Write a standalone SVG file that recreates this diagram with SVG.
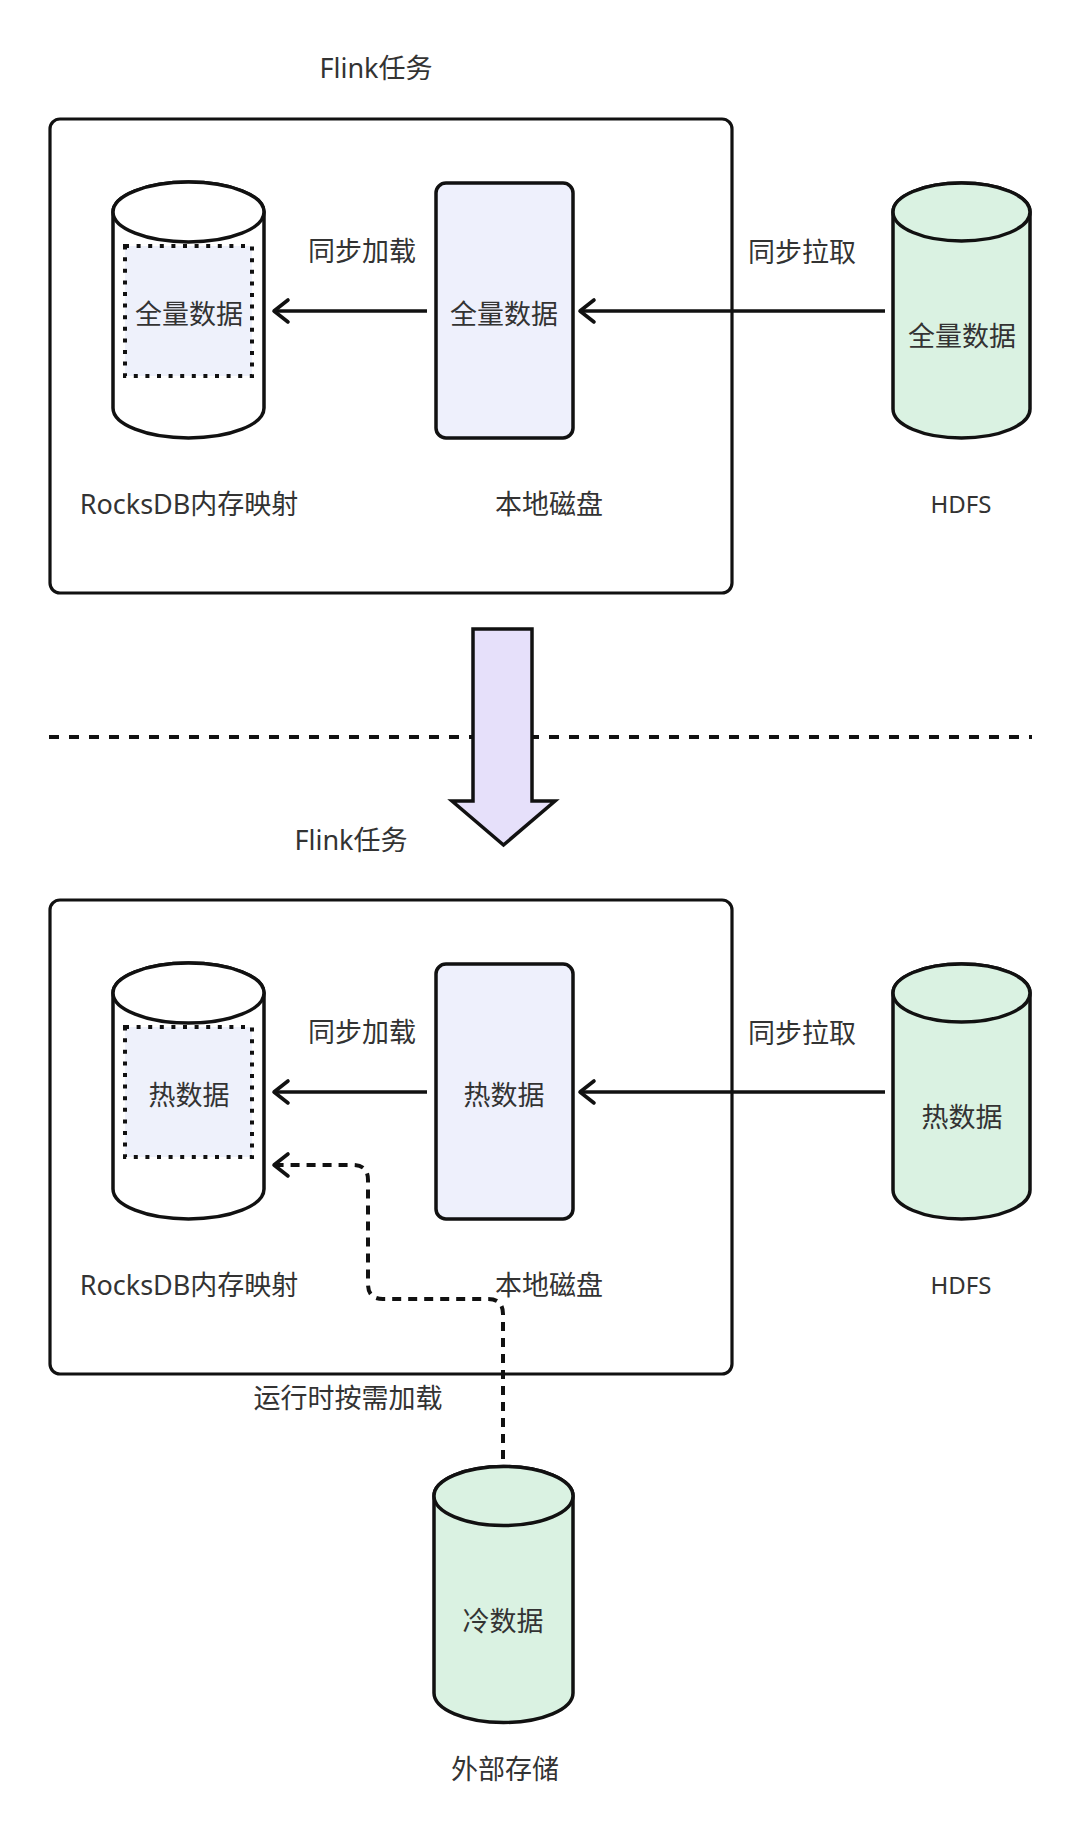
<svg xmlns="http://www.w3.org/2000/svg" width="1080" height="1833" viewBox="0 0 1080 1833">
<style>
  text { font-family: "Noto Sans", "Noto Sans CJK SC", sans-serif; fill: #333; font-size: 27px; text-anchor: middle; dominant-baseline: central; }
  .small { font-size: 24px; }
  .frame { fill: none; stroke: #111; stroke-width: 3.2; }
  .shape { stroke: #111; stroke-width: 3.5; stroke-linejoin: round; }
  .white { fill: #fff; }
  .disk { fill: #EEF0FC; }
  .green { fill: #DAF2E2; }
  .dotbox { fill: #EEF1FB; stroke: #111; stroke-width: 4; stroke-dasharray: 4 7.6; }
  .conn { fill: none; stroke: #111; stroke-width: 3.6; }
  .dash { stroke-width: 4; stroke-dasharray: 9 7; }
  .sep { fill: none; stroke: #111; stroke-width: 4; stroke-dasharray: 10 10; }
  .bigarrow { fill: #E6E0FA; stroke: #111; stroke-width: 3.5; stroke-linejoin: miter; }
</style>
<defs>
  <marker id="chev" markerUnits="userSpaceOnUse" viewBox="-18 -15 22 30" refX="0" refY="0" markerWidth="22" markerHeight="30" orient="auto">
    <path d="M -14 -11 L 0 0 L -14 11" fill="none" stroke="#111" stroke-width="3.6" stroke-linecap="round" stroke-linejoin="round" stroke-dasharray="none"/>
  </marker>
</defs>
<rect width="1080" height="1833" fill="#fff"/>

<g id="top-title"><text x="376" y="67">Flink任务</text></g>
<g id="top-frame"><rect class="frame" x="50" y="119" width="682" height="474" rx="10"/></g>

<g id="top-rocksdb">
  <path class="shape white" d="M113,212 L113,408 A75.5,30 0 0 0 264,408 L264,212 A75.5,30 0 0 0 113,212 Z"/>
  <ellipse class="shape white" cx="188.5" cy="212" rx="75.5" ry="30"/>
  <rect class="dotbox" x="125" y="246" width="127" height="130"/>
  <text x="189" y="313">全量数据</text>
  <text x="189" y="503">RocksDB内存映射</text>
</g>

<g id="top-local">
  <rect class="shape disk" x="436" y="183" width="137" height="255" rx="10"/>
  <text x="504" y="313">全量数据</text>
  <text x="549" y="503">本地磁盘</text>
</g>

<g id="top-hdfs">
  <path class="shape green" d="M893,212 L893,409 A68.5,29 0 0 0 1030,409 L1030,212 A68.5,29 0 0 0 893,212 Z"/>
  <ellipse class="shape green" cx="961.5" cy="212" rx="68.5" ry="29"/>
  <text x="962" y="335">全量数据</text>
  <text class="small" x="961" y="503">HDFS</text>
</g>

<g id="separator">
  <line class="sep" x1="49" y1="737" x2="1032" y2="737"/>
</g>
<g id="transition-arrow">
  <polygon class="bigarrow" points="473,629 532,629 532,801 555,801 503.5,845 452,801 473,801"/>
</g>

<g id="bottom-title"><text x="351" y="839">Flink任务</text></g>
<g id="bottom-frame"><rect class="frame" x="50" y="900" width="682" height="474" rx="10"/></g>

<g id="bottom-rocksdb">
  <path class="shape white" d="M113,993 L113,1189 A75.5,30 0 0 0 264,1189 L264,993 A75.5,30 0 0 0 113,993 Z"/>
  <ellipse class="shape white" cx="188.5" cy="993" rx="75.5" ry="30"/>
  <rect class="dotbox" x="125" y="1027" width="127" height="130"/>
  <text x="189" y="1094">热数据</text>
  <text x="189" y="1284">RocksDB内存映射</text>
</g>

<g id="bottom-local">
  <rect class="shape disk" x="436" y="964" width="137" height="255" rx="10"/>
  <text x="504" y="1094">热数据</text>
  <text x="549" y="1284">本地磁盘</text>
</g>

<g id="bottom-hdfs">
  <path class="shape green" d="M893,993 L893,1190 A68.5,29 0 0 0 1030,1190 L1030,993 A68.5,29 0 0 0 893,993 Z"/>
  <ellipse class="shape green" cx="961.5" cy="993" rx="68.5" ry="29"/>
  <text x="962" y="1116">热数据</text>
  <text class="small" x="961" y="1284">HDFS</text>
</g>

<g id="cold-storage">
  <path class="shape green" d="M434,1496 L434,1693 A69.5,29.5 0 0 0 573,1693 L573,1496 A69.5,29.5 0 0 0 434,1496 Z"/>
  <ellipse class="shape green" cx="503.5" cy="1496" rx="69.5" ry="29.5"/>
  <text x="503" y="1620">冷数据</text>
  <text x="505" y="1768">外部存储</text>
</g>

<g id="connectors">
  <line class="conn" x1="427" y1="311" x2="274" y2="311" marker-end="url(#chev)"/>
  <text x="362" y="250">同步加载</text>
  <line class="conn" x1="885" y1="311" x2="580" y2="311" marker-end="url(#chev)"/>
  <text x="802" y="251">同步拉取</text>
  <line class="conn" x1="427" y1="1092" x2="274" y2="1092" marker-end="url(#chev)"/>
  <text x="362" y="1031">同步加载</text>
  <line class="conn" x1="885" y1="1092" x2="580" y2="1092" marker-end="url(#chev)"/>
  <text x="802" y="1032">同步拉取</text>
  <path class="conn dash" d="M503,1459 L503,1314 Q503,1299 488,1299 L383,1299 Q368,1299 368,1284 L368,1180 Q368,1165 353,1165 L274,1165" marker-end="url(#chev)"/>
  <text x="348" y="1397">运行时按需加载</text>
</g>
</svg>
